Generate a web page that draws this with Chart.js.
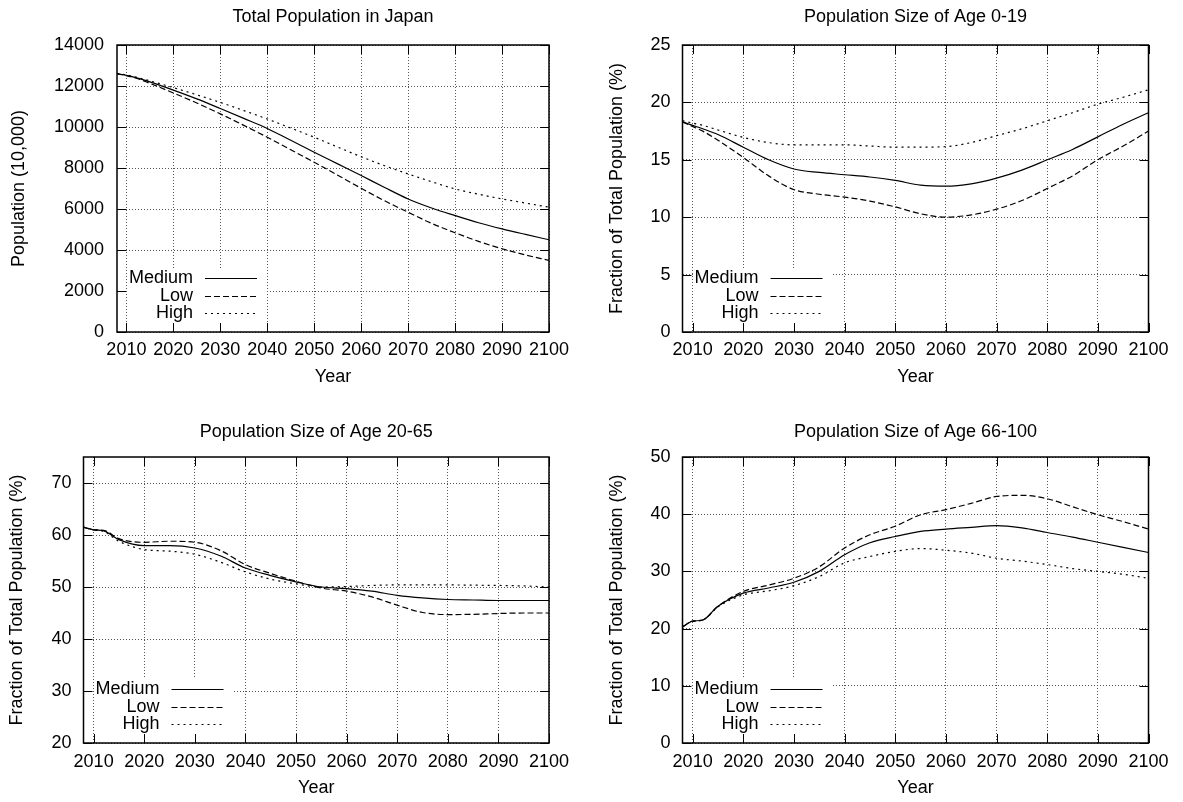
<!DOCTYPE html>
<html>
<head>
<meta charset="utf-8">
<script src="https://cdn.jsdelivr.net/npm/chart.js@4.4.1/dist/chart.umd.min.js"></script>
<style>
  body { margin: 0; background: #fff; }
  #wrap { position: relative; width: 1183px; height: 802px; }
  canvas { position: absolute; }
</style>
</head>
<body>
<div id="wrap">
  <canvas id="c1" width="592" height="400" style="left:0;top:0"></canvas>
  <canvas id="c2" width="591" height="400" style="left:592px;top:0"></canvas>
  <canvas id="c3" width="592" height="402" style="left:0;top:400px"></canvas>
  <canvas id="c4" width="591" height="402" style="left:592px;top:400px"></canvas>
</div>
<script>
// data
const years = [2008, 2010, 2012, 2015, 2020, 2025, 2030, 2035, 2040, 2045, 2050,
               2055, 2060, 2065, 2070, 2075, 2080, 2085, 2090, 2095, 2100];
const seriesNames = ['Medium', 'Low', 'High'];

const totalMedium = [12600, 12520, 12410, 12200, 11800, 11370, 10900, 10420, 9930, 9350, 8770, 8200, 7630, 7050, 6490, 6050, 5680, 5330, 5030, 4760, 4500];
const totalLow    = [12600, 12500, 12390, 12130, 11660, 11170, 10640, 10080, 9500, 8890, 8280, 7650, 7010, 6400, 5840, 5300, 4840, 4420, 4060, 3760, 3490];
const totalHigh   = [12600, 12540, 12440, 12250, 11920, 11570, 11200, 10800, 10390, 9950, 9500, 9020, 8550, 8110, 7710, 7330, 6980, 6720, 6490, 6290, 6090];

const youngMedium = [18.3, 18.0, 17.7, 17.2, 16.1, 15.0, 14.2, 13.9, 13.7, 13.5, 13.2, 12.8, 12.7, 12.9, 13.4, 14.1, 15.0, 15.9, 17.0, 18.1, 19.1];
const youngLow    = [18.3, 17.9, 17.5, 16.7, 15.2, 13.6, 12.4, 12.0, 11.75, 11.4, 10.9, 10.3, 10.0, 10.2, 10.7, 11.45, 12.5, 13.6, 15.0, 16.2, 17.5];
const youngHigh   = [18.4, 18.2, 18.0, 17.6, 16.95, 16.5, 16.3, 16.3, 16.3, 16.2, 16.1, 16.1, 16.15, 16.5, 17.1, 17.7, 18.4, 19.1, 19.85, 20.45, 21.1];

const workMedium = [61.5, 61.0, 60.8, 59.1, 57.95, 57.95, 57.5, 56.0, 53.65, 52.2, 51.0, 50.0, 49.7, 49.2, 48.4, 47.9, 47.6, 47.5, 47.4, 47.4, 47.4];
const workLow    = [61.5, 61.0, 60.9, 59.3, 58.6, 58.8, 58.6, 57.05, 54.3, 52.6, 51.1, 49.8, 49.2, 48.1, 46.5, 45.1, 44.7, 44.75, 44.9, 45.0, 45.0];
const workHigh   = [61.5, 61.0, 60.7, 58.8, 57.2, 56.9, 56.3, 54.8, 52.9, 51.5, 50.6, 50.0, 50.1, 50.3, 50.4, 50.4, 50.4, 50.35, 50.3, 50.2, 50.0];

const oldMedium = [20.3, 21.3, 21.5, 23.9, 26.2, 27.1, 28.1, 30.0, 32.9, 35.0, 36.1, 37.0, 37.4, 37.7, 38.0, 37.6, 36.8, 36.0, 35.1, 34.2, 33.3];
const oldLow    = [20.3, 21.3, 21.5, 23.9, 26.5, 27.6, 28.8, 30.8, 34.1, 36.4, 37.9, 39.9, 40.8, 41.9, 43.1, 43.3, 42.7, 41.3, 39.9, 38.7, 37.4];
const oldHigh   = [20.3, 21.3, 21.5, 23.8, 25.9, 26.6, 27.5, 29.1, 31.5, 32.6, 33.5, 34.0, 33.7, 33.2, 32.3, 31.8, 31.2, 30.5, 30.0, 29.5, 28.8];

const FONT = { family: '"Liberation Sans", Arial, Helvetica, sans-serif', size: 18, weight: 'normal' };
const dashes = [[], [6, 3], [2, 4]];

// gnuplot-like frame, inward ticks and key
const gnuFrame = {
  id: 'gnuFrame',
  beforeDatasetsDraw(chart) {
    const a = chart.chartArea, ctx = chart.ctx;
    ctx.save();
    ctx.fillStyle = '#fff';
    ctx.fillRect(a.left + 12, a.bottom - 64, 138, 64);
    ctx.font = FONT.size + 'px ' + FONT.family;
    ctx.fillStyle = '#000';
    ctx.textAlign = 'right';
    ctx.textBaseline = 'middle';
    const rows = [54, 36, 19];
    chart.data.datasets.forEach((ds, i) => {
      const y = a.bottom - rows[i];
      ctx.fillText(ds.label, a.left + 76, y);
      ctx.beginPath();
      ctx.setLineDash(ds.borderDash);
      ctx.lineWidth = ds.borderWidth;
      ctx.strokeStyle = '#000';
      ctx.moveTo(a.left + 88, Math.round(y) + 0.5);
      ctx.lineTo(a.left + 140, Math.round(y) + 0.5);
      ctx.stroke();
    });
    ctx.restore();
  },
  afterDatasetsDraw(chart) {
    const a = chart.chartArea, ctx = chart.ctx;
    const xs = chart.scales.x, ys = chart.scales.y;
    ctx.save();
    ctx.strokeStyle = '#000';
    ctx.lineWidth = 1;
    ctx.beginPath();
    xs.ticks.forEach(t => {
      const px = Math.round(xs.getPixelForValue(t.value)) + 0.5;
      ctx.moveTo(px, a.bottom); ctx.lineTo(px, a.bottom - 9);
      ctx.moveTo(px, a.top); ctx.lineTo(px, a.top + 9);
    });
    ys.ticks.forEach(t => {
      const py = Math.round(ys.getPixelForValue(t.value)) + 0.5;
      ctx.moveTo(a.left, py); ctx.lineTo(a.left + 9, py);
      ctx.moveTo(a.right, py); ctx.lineTo(a.right - 9, py);
    });
    ctx.stroke();
    ctx.lineWidth = 1.5;
    ctx.strokeRect(a.left, a.top, a.right - a.left, a.bottom - a.top);
    ctx.restore();
  }
};

function makePanel(id, p) {
  const ctx = document.getElementById(id).getContext('2d');
  return new Chart(ctx, {
    type: 'line',
    data: {
      datasets: p.series.map((vals, i) => ({
        label: seriesNames[i],
        data: years.map((x, j) => ({ x: x, y: vals[j] })),
        borderColor: '#000',
        borderWidth: 1.2,
        borderDash: dashes[i],
        pointRadius: 0,
        cubicInterpolationMode: 'monotone',
        fill: false
      }))
    },
    options: {
      responsive: false,
      animation: false,
      events: [],
      layout: { padding: { left: 0, right: p.padRight, top: 0, bottom: 0 } },
      plugins: {
        legend: { display: false },
        tooltip: { enabled: false },
        title: {
          display: true, text: p.title, color: '#000', font: FONT,
          fullSize: false, padding: p.titlePad
        }
      },
      scales: {
        x: {
          type: 'linear', min: 2008, max: 2100,
          grid: { color: '#555', lineWidth: 1, drawTicks: false },
          border: { display: false, dash: [1, 2] },
          ticks: {
            stepSize: 10, includeBounds: false, autoSkip: false, maxRotation: 0,
            color: '#000', font: FONT, padding: p.xTickPad,
            callback: v => String(v)
          },
          title: { display: true, text: 'Year', color: '#000', font: FONT, padding: { top: 0, bottom: p.xTitlePad } },
          afterFit: s => { s.height = p.xHeight; s.paddingLeft = 0; s.paddingRight = 0; }
        },
        y: {
          min: p.yMin, max: p.yMax,
          grid: { color: '#555', lineWidth: 1, drawTicks: false },
          border: { display: false, dash: [1, 2] },
          ticks: {
            stepSize: p.yStep, includeBounds: false,
            color: '#000', font: FONT, padding: p.yTickPad,
            callback: v => String(v)
          },
          title: { display: true, text: p.yTitle, color: '#000', font: FONT, padding: { top: p.yTitlePad, bottom: 0 } },
          afterFit: s => { s.width = p.yWidth; }
        }
      }
    },
    plugins: [gnuFrame]
  });
}

makePanel('c1', {
  title: 'Total Population in Japan', yTitle: 'Population (10,000)',
  yMin: 0, yMax: 14000, yStep: 2000,
  series: [totalMedium, totalLow, totalHigh],
  padRight: 43, titlePad: { top: 6.2, bottom: 17.2 },
  yWidth: 117, yTitlePad: 8, yTickPad: 13,
  xHeight: 68, xTickPad: 7, xTitlePad: 12
});
makePanel('c2', {
  title: 'Population Size of Age 0-19', yTitle: 'Fraction of Total Population (%)',
  yMin: 0, yMax: 25, yStep: 5,
  series: [youngMedium, youngLow, youngHigh],
  padRight: 34.5, titlePad: { top: 6.2, bottom: 17.2 },
  yWidth: 90.5, yTitlePad: 14, yTickPad: 12,
  xHeight: 68, xTickPad: 7, xTitlePad: 12
});
makePanel('c3', {
  title: 'Population Size of Age 20-65', yTitle: 'Fraction of Total Population (%)',
  yMin: 20, yMax: 75, yStep: 10,
  series: [workMedium, workLow, workHigh],
  padRight: 43, titlePad: { top: 21.2, bottom: 14.2 },
  yWidth: 83.5, yTitlePad: 6, yTickPad: 12,
  xHeight: 59, xTickPad: 8, xTitlePad: 3
});
makePanel('c4', {
  title: 'Population Size of Age 66-100', yTitle: 'Fraction of Total Population (%)',
  yMin: 0, yMax: 50, yStep: 10,
  series: [oldMedium, oldLow, oldHigh],
  padRight: 34.5, titlePad: { top: 21.2, bottom: 14.2 },
  yWidth: 90.5, yTitlePad: 14, yTickPad: 12,
  xHeight: 59, xTickPad: 8, xTitlePad: 3
});
</script>
</body>
</html>
